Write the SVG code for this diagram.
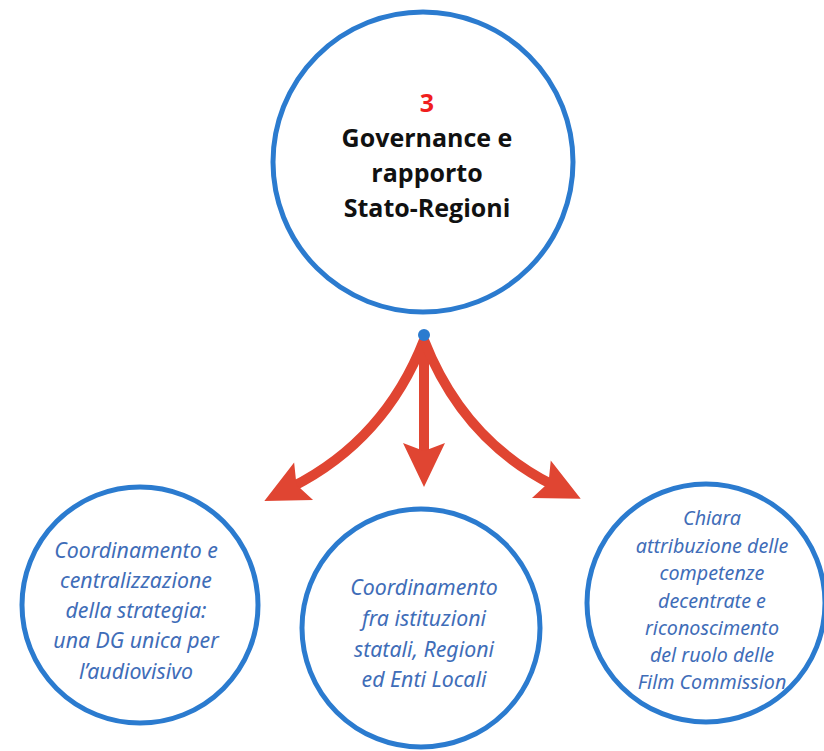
<svg xmlns="http://www.w3.org/2000/svg" width="824" height="751" viewBox="0 0 824 751">
<style>
.c{fill:#fff;stroke:#2b7bcf;stroke-width:5}
.t{font-family:"Open Sans","Liberation Sans",sans-serif;font-weight:bold;font-size:25px;fill:#111;text-anchor:middle}
.n{fill:#f01e1e}
.s{font-family:"Noto Sans","Liberation Sans",sans-serif;font-style:italic;font-size:21.3px;fill:#3f6db8;text-anchor:middle}
.s2{font-size:19.7px}
.a{fill:none;stroke:#e04532;stroke-width:10;marker-end:url(#ah)}
</style>
<defs>
<marker id="ah" markerUnits="userSpaceOnUse" markerWidth="46" markerHeight="46" viewBox="0 0 46 46" refX="15" refY="23" orient="auto">
<path d="M46,23 L2,2 L10,23 L2,44 Z" fill="#e04532"/>
</marker>
</defs>
<g id="connectors">
<path class="a" d="M424,340 Q385,440 292,487"/>
<path class="a" d="M424,340 L424,456"/>
<path class="a" d="M424,340 Q463,440 553,485"/>
<circle cx="424" cy="335" r="6" fill="#2b7bcf"/>
</g>
<g id="top">
<circle class="c" cx="423" cy="162" r="150"/>
<text class="t"><tspan class="n" x="427" y="112">3</tspan><tspan x="427" y="147">Governance e</tspan><tspan x="427" y="182">rapporto</tspan><tspan x="427" y="217">Stato-Regioni</tspan></text>
</g>
<g id="left">
<circle class="c" cx="140" cy="605" r="118"/>
<text class="s"><tspan x="136" y="558">Coordinamento e</tspan><tspan x="136" y="588">centralizzazione</tspan><tspan x="136" y="618">della strategia:</tspan><tspan x="136" y="648">una DG unica per</tspan><tspan x="136" y="679">l’audiovisivo</tspan></text>
</g>
<g id="middle">
<circle class="c" cx="421" cy="628" r="119"/>
<text class="s"><tspan x="424" y="595">Coordinamento</tspan><tspan x="424" y="626">fra istituzioni</tspan><tspan x="424" y="657">statali, Regioni</tspan><tspan x="424" y="687">ed Enti Locali</tspan></text>
</g>
<g id="right">
<circle class="c" cx="706" cy="603" r="119"/>
<text class="s s2"><tspan x="712" y="525">Chiara</tspan><tspan x="712" y="553">attribuzione delle</tspan><tspan x="712" y="580">competenze</tspan><tspan x="712" y="608">decentrate e</tspan><tspan x="712" y="635">riconoscimento</tspan><tspan x="712" y="662">del ruolo delle</tspan><tspan x="712" y="689">Film Commission</tspan></text>
</g>
</svg>
